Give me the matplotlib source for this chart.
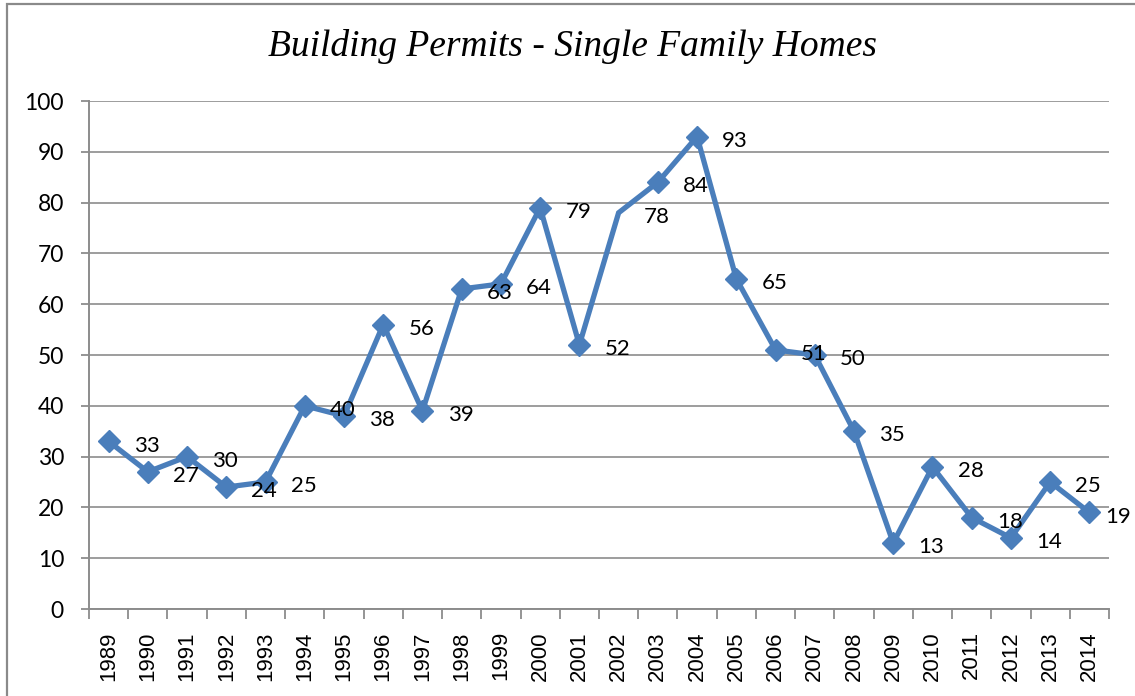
import matplotlib
matplotlib.use("Agg")
import matplotlib.pyplot as plt
from matplotlib.patches import Rectangle

years = ["1989", "1990", "1991", "1992", "1993", "1994", "1995", "1996", "1997",
         "1998", "1999", "2000", "2001", "2002", "2003", "2004", "2005", "2006",
         "2007", "2008", "2009", "2010", "2011", "2012", "2013", "2014"]
permits = [33, 27, 30, 24, 25, 40, 38, 56, 39, 63, 64, 79, 52, 78, 84, 93, 65, 51,
           50, 35, 13, 28, 18, 14, 25, 19]
y_ticks = [0, 10, 20, 30, 40, 50, 60, 70, 80, 90, 100]
title = "Building Permits - Single Family Homes"

W, H = 1135, 696
fig = plt.figure(figsize=(W / 100, H / 100), dpi=100)
fig.patch.set_facecolor("white")

# chart border (cropped on right / bottom)
fig.patches.append(Rectangle((7 / W, -0.1), 1.2, (H - 4) / H + 0.1, transform=fig.transFigure,
                             fill=False, edgecolor="#8a8a8a", linewidth=1.6))

ax = fig.add_axes([89 / W, (H - 609) / H, (1109 - 89) / W, (609 - 101) / H])
grid_c = "#8c8c8c"
line_c = "#4a7ebb"

x = list(range(len(years)))
marks = [i for i, y in enumerate(years) if y != "2002"]
ax.plot(x, permits, color=line_c, linewidth=3.8, marker="D", markersize=11,
        markevery=marks, markerfacecolor=line_c, markeredgecolor=line_c,
        solid_joinstyle="miter", zorder=3)

n = len(years)
for xi, v in zip(x, permits):
    dx = 27.4 if xi < n - 1 else 21
    ax.annotate(str(v), (xi, v), xytext=(dx, -3), textcoords="offset points",
                ha="center", va="center", fontsize=16, family="Lato", color="black",
                zorder=4, annotation_clip=False)

ax.set_xlim(-0.5, n - 0.5)
ax.set_ylim(0, 100)
ax.set_yticks(y_ticks)
ax.set_yticklabels([str(t) for t in y_ticks], family="Lato", fontsize=16.5)
ax.set_xticks(x)
ax.set_xticklabels(years, rotation=90, family="Liberation Sans", fontsize=16)
ax.set_xticks([i - 0.5 for i in range(n + 1)], minor=True)
ax.tick_params(axis="x", which="major", length=0, pad=16)
ax.tick_params(axis="x", which="minor", length=7, width=1.3, color=grid_c)
ax.tick_params(axis="y", which="major", length=6, width=1.3, color=grid_c, pad=12)
ax.grid(axis="y", color=grid_c, linewidth=1.2)
ax.set_axisbelow(True)
for s in ["top", "right"]:
    ax.spines[s].set_visible(False)
for s in ["left", "bottom"]:
    ax.spines[s].set_color(grid_c)
    ax.spines[s].set_linewidth(1.4)

fig.text(573 / W, 1 - 46 / H, title, ha="center", va="center",
         family="Liberation Serif", style="italic", fontsize=27)

fig.savefig("out.png", dpi=100)
